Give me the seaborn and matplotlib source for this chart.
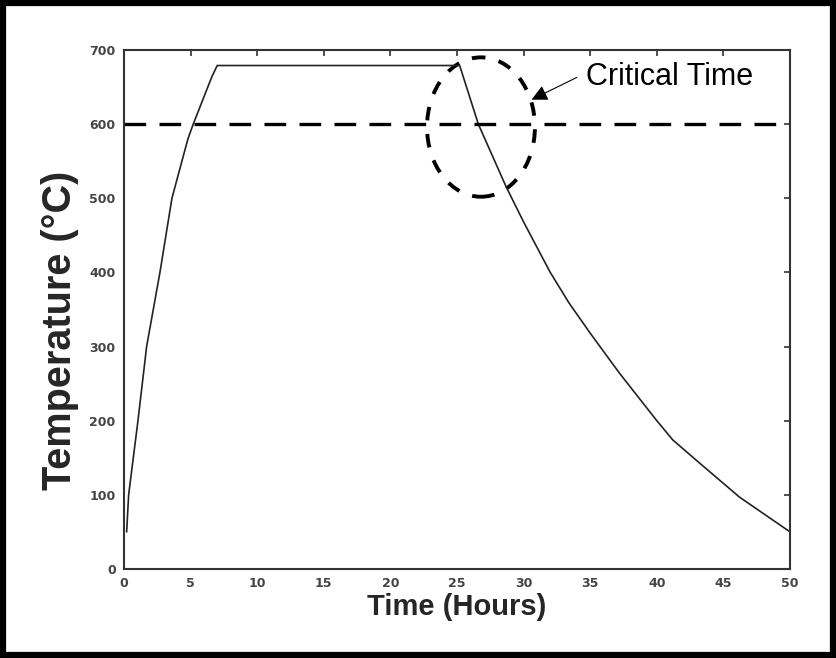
import matplotlib
matplotlib.use("Agg")
import matplotlib.pyplot as plt
from matplotlib.patches import Ellipse, Rectangle
import numpy as np
import pandas as pd
import seaborn as sns

# Heating / soak / cooling cycle of the furnace charge
time_hours = [0.2, 0.35, 1.05, 1.7, 2.7, 3.6, 4.8, 5.2, 6.6, 7.0,
              25.2, 26.6, 28.7, 30.0, 32.0, 33.4, 35.0, 37.2, 40.0,
              41.2, 43.2, 46.2, 50.0]
temperature_c = [50, 100, 200, 300, 400, 500, 580, 600, 664, 679,
                 679, 600, 515, 468, 400, 359, 318, 264, 200,
                 174, 143, 97, 50]

critical_temp = 600
x_ticks = list(range(0, 51, 5))
y_ticks = list(range(0, 701, 100))

# Region highlighted as the critical time window
window_center = (26.8, 596)
window_size = (8.1, 188)

sns.set_style("white")
plt.rcParams["font.family"] = ["Liberation Sans", "DejaVu Sans"]

fig = plt.figure(figsize=(8.36, 6.58), dpi=100)
ax = fig.add_axes([0.1483, 0.1353, 0.7967, 0.7888])

df = pd.DataFrame({"Time": time_hours, "Temperature": temperature_c})
sns.lineplot(data=df, x="Time", y="Temperature", ax=ax, sort=False,
             estimator=None, color="#222222", linewidth=1.2)

ax.axhline(critical_temp, color="black", linewidth=2.4,
           linestyle=(0, (6.5, 4)))

ax.add_patch(Ellipse(window_center, window_size[0], window_size[1],
                     fill=False, edgecolor="black", linewidth=2.8,
                     linestyle=(0, (3.5, 3.5))))

ax.annotate("", xy=(30.6, 633), xytext=(34.0, 663),
            arrowprops=dict(arrowstyle="-|>", mutation_scale=24,
                            lw=0.8, color="black", shrinkA=0, shrinkB=0))
ax.text(34.7, 664, "Critical Time", fontsize=22, va="center", ha="left",
        color="black")

ax.set_xlim(0, 50)
ax.set_ylim(0, 700)
ax.set_xticks(x_ticks)
ax.set_yticks(y_ticks)
ax.tick_params(axis="both", direction="in", length=4, width=1.2,
               color="#333333", top=True, right=True, labelsize=9,
               labelcolor="#444444", pad=6)
for lab in ax.get_xticklabels() + ax.get_yticklabels():
    lab.set_fontfamily("DejaVu Sans")
    lab.set_fontweight("bold")

for side in ["left", "right", "top", "bottom"]:
    ax.spines[side].set_visible(True)
    ax.spines[side].set_color("#333333")
    ax.spines[side].set_linewidth(1.5)

ax.set_xlabel("Time (Hours)", fontsize=21, fontweight="bold", labelpad=2)
ax.set_ylabel("Temperature (°C)", fontsize=28.5, fontweight="bold")
ax.yaxis.set_label_coords(-0.068, 0.46)

# Black frame around the whole figure
fig.patches.append(Rectangle((0.003, 0.005), 0.994, 0.99,
                             transform=fig.transFigure, fill=False,
                             edgecolor="black", linewidth=4.5))

fig.savefig("out.png", dpi=100)
